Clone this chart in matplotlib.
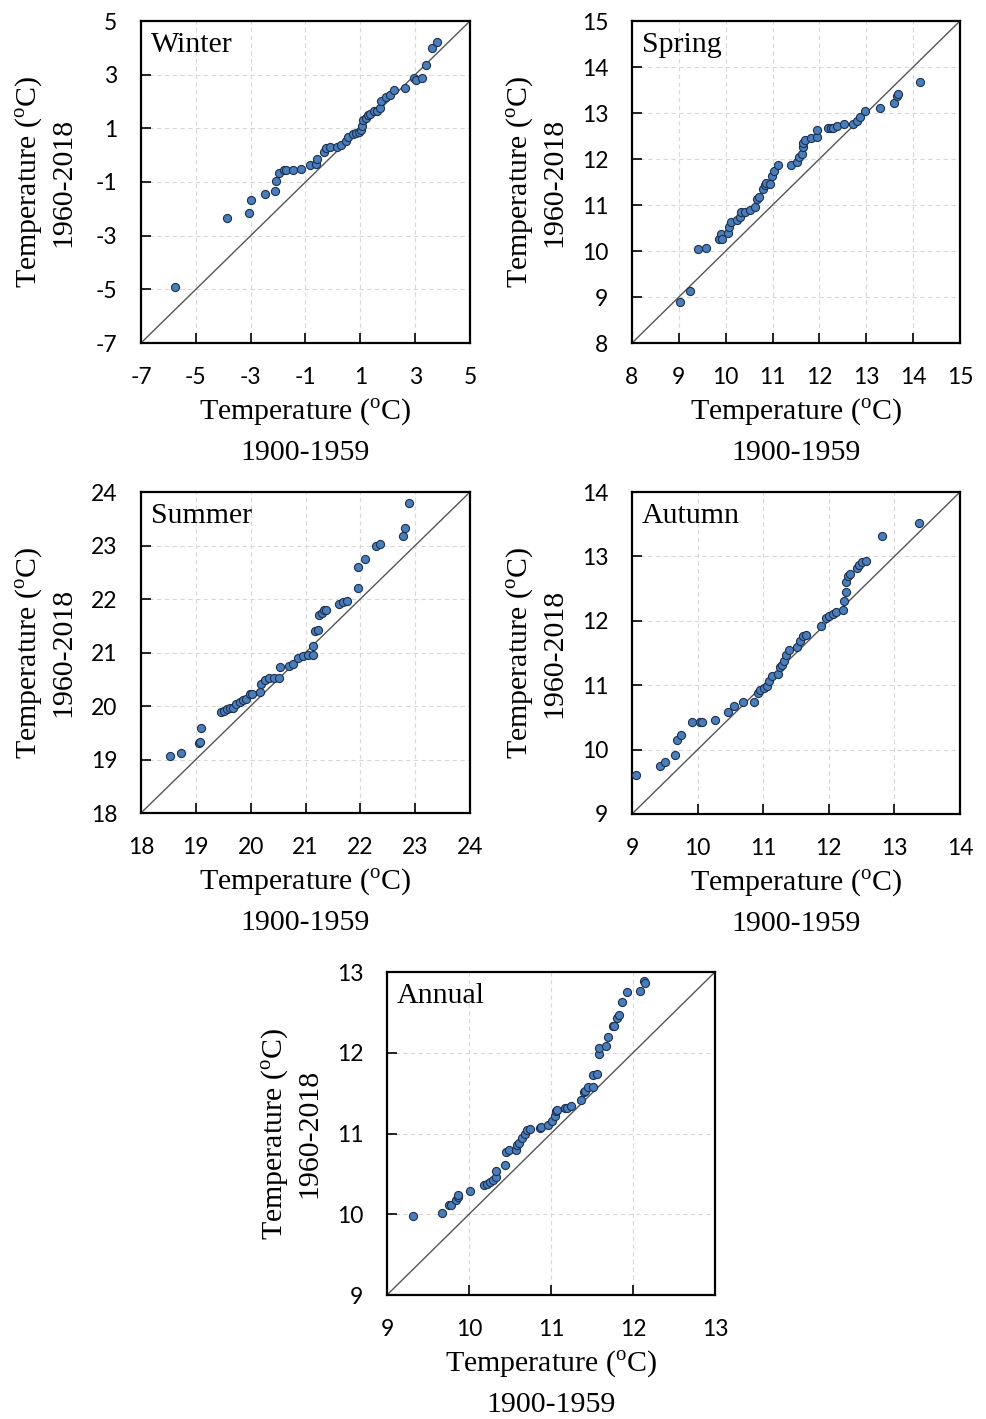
import numpy as np
import matplotlib
matplotlib.use('Agg')
import matplotlib.pyplot as plt

plt.rcParams['mathtext.fontset'] = 'custom'
plt.rcParams['mathtext.rm'] = 'Liberation Serif'

# ---- data (x: 1900-1959, y: 1960-2018) ----
winter_x = [-5.76, -3.88, -3.07, -2.99, -2.48, -2.12, -2.07, -1.98, -1.77, -1.71, -1.47, -1.15,
            -0.85, -0.63, -0.58, -0.31, -0.24, -0.11, 0.16, 0.30, 0.47, 0.55, 0.73, 0.86, 0.95,
            1.01, 1.06, 1.10, 1.20, 1.29, 1.37, 1.49, 1.61, 1.71, 1.75, 1.95, 2.07, 2.23, 2.63,
            2.95, 3.02, 3.24, 3.38, 3.60, 3.78]
winter_y = [-4.93, -2.36, -2.17, -1.66, -1.43, -1.34, -0.98, -0.68, -0.57, -0.55, -0.56, -0.51,
            -0.38, -0.32, -0.16, 0.10, 0.26, 0.30, 0.31, 0.38, 0.53, 0.69, 0.78, 0.82, 0.88,
            0.94, 1.07, 1.30, 1.38, 1.48, 1.55, 1.63, 1.66, 1.77, 2.02, 2.17, 2.23, 2.42, 2.49,
            2.87, 2.79, 2.87, 3.36, 3.98, 4.23]

spring_x = [9.03, 9.24, 9.41, 9.58, 9.85, 9.90, 9.92, 10.04, 10.08, 10.12, 10.24, 10.31, 10.33,
            10.42, 10.51, 10.63, 10.67, 10.72, 10.79, 10.83, 10.86, 10.95, 10.99, 11.02, 11.12,
            11.40, 11.52, 11.57, 11.62, 11.64, 11.65, 11.70, 11.82, 11.94, 11.94, 12.19, 12.25,
            12.30, 12.37, 12.53, 12.71, 12.81, 12.87, 12.98, 13.29, 13.59, 13.66, 13.67, 14.15]
spring_y = [8.89, 9.12, 10.04, 10.06, 10.26, 10.37, 10.26, 10.39, 10.53, 10.64, 10.68, 10.75, 10.84,
            10.84, 10.89, 10.95, 11.13, 11.18, 11.35, 11.44, 11.47, 11.46, 11.62, 11.75, 11.87,
            11.87, 11.94, 12.05, 12.10, 12.26, 12.34, 12.42, 12.45, 12.47, 12.63, 12.68, 12.68,
            12.68, 12.72, 12.76, 12.76, 12.83, 12.92, 13.04, 13.10, 13.21, 13.36, 13.42, 13.68]

summer_x = [18.53, 18.73, 19.05, 19.08, 19.10, 19.46, 19.51, 19.57, 19.62, 19.68, 19.74, 19.81,
            19.86, 19.91, 19.98, 20.03, 20.17, 20.19, 20.26, 20.33, 20.42, 20.51, 20.53, 20.69,
            20.77, 20.87, 20.96, 21.04, 21.13, 21.13, 21.18, 21.22, 21.24, 21.30, 21.33, 21.38,
            21.62, 21.68, 21.75, 21.95, 21.95, 22.09, 22.28, 22.36, 22.77, 22.81, 22.88]
summer_y = [19.06, 19.12, 19.30, 19.32, 19.58, 19.88, 19.90, 19.94, 19.96, 19.96, 20.04, 20.07,
            20.11, 20.14, 20.22, 20.22, 20.26, 20.42, 20.49, 20.53, 20.53, 20.53, 20.73, 20.74,
            20.78, 20.90, 20.94, 20.95, 20.95, 21.12, 21.41, 21.42, 21.70, 21.73, 21.79, 21.80,
            21.90, 21.95, 21.97, 22.21, 22.59, 22.74, 23.00, 23.03, 23.17, 23.32, 23.79]

autumn_x = [9.06, 9.43, 9.50, 9.65, 9.69, 9.75, 9.91, 10.03, 10.06, 10.26, 10.46, 10.56, 10.69,
            10.86, 10.92, 10.95, 11.01, 11.06, 11.09, 11.13, 11.23, 11.26, 11.29, 11.32, 11.34,
            11.40, 11.51, 11.56, 11.61, 11.65, 11.88, 11.96, 12.01, 12.06, 12.11, 12.21, 12.23,
            12.26, 12.26, 12.30, 12.32, 12.43, 12.46, 12.51, 12.57, 12.81, 13.38]
autumn_y = [9.61, 9.75, 9.81, 9.92, 10.15, 10.23, 10.43, 10.43, 10.43, 10.46, 10.58, 10.68, 10.74,
            10.74, 10.88, 10.93, 10.96, 10.98, 11.06, 11.15, 11.18, 11.28, 11.32, 11.38, 11.47,
            11.54, 11.60, 11.68, 11.77, 11.78, 11.92, 12.05, 12.07, 12.10, 12.13, 12.17, 12.31,
            12.44, 12.61, 12.69, 12.72, 12.82, 12.86, 12.92, 12.93, 13.32, 13.52]

annual_x = [9.32, 9.67, 9.75, 9.78, 9.84, 9.86, 9.87, 10.01, 10.18, 10.22, 10.25, 10.29, 10.33,
            10.33, 10.44, 10.45, 10.49, 10.57, 10.58, 10.61, 10.65, 10.68, 10.71, 10.74, 10.86,
            10.88, 10.96, 11.01, 11.05, 11.06, 11.07, 11.17, 11.20, 11.24, 11.36, 11.40, 11.42,
            11.45, 11.51, 11.51, 11.56, 11.59, 11.59, 11.67, 11.69, 11.75, 11.77, 11.80, 11.83,
            11.86, 11.93, 12.09, 12.13, 12.15]
annual_y = [9.98, 10.01, 10.11, 10.12, 10.18, 10.21, 10.24, 10.29, 10.36, 10.38, 10.40, 10.43, 10.46,
            10.54, 10.61, 10.77, 10.80, 10.80, 10.86, 10.88, 10.94, 10.99, 11.04, 11.05, 11.07,
            11.08, 11.11, 11.15, 11.22, 11.28, 11.29, 11.31, 11.32, 11.34, 11.41, 11.51, 11.53,
            11.57, 11.57, 11.72, 11.74, 11.98, 12.06, 12.08, 12.20, 12.33, 12.33, 12.43, 12.47,
            12.63, 12.75, 12.76, 12.89, 12.86]

panels = [
    # name, x, y, (lo, hi), ticks, pixel box (left, top, right, bottom)
    ('Winter', winter_x, winter_y, (-7, 5), [-7, -5, -3, -1, 1, 3, 5], (141, 21, 470, 343)),
    ('Spring', spring_x, spring_y, (8, 15), list(range(8, 16)), (632, 21, 960, 343)),
    ('Summer', summer_x, summer_y, (18, 24), list(range(18, 25)), (141, 492, 470, 813)),
    ('Autumn', autumn_x, autumn_y, (9, 14), list(range(9, 15)), (632, 492, 960, 814)),
    ('Annual', annual_x, annual_y, (9, 13), list(range(9, 14)), (387, 972, 715, 1295)),
]

W, H = 987, 1419
fig = plt.figure(figsize=(W / 100, H / 100), dpi=100)

serif = 'Liberation Serif'
lab = r'Temperature ($^{\mathrm{o}}$C)'

for name, xs, ys, (lo, hi), ticks, (l, t, r, b) in panels:
    ax = fig.add_axes([l / W, 1 - b / H, (r - l) / W, (b - t) / H])
    ax.plot([lo, hi], [lo, hi], color='#555555', lw=1.0, zorder=2)
    ax.scatter(xs, ys, s=34, facecolor='#4a7ebb', edgecolor='#1c2f4f', linewidth=0.8, zorder=3)
    ax.set_xlim(lo, hi)
    ax.set_ylim(lo, hi)
    ax.set_xticks(ticks)
    ax.set_yticks(ticks)
    ax.set_xticklabels([str(v) for v in ticks])
    ax.set_yticklabels([str(v) for v in ticks])
    ax.grid(True, color='#d8d8d8', ls=(0, (4, 3)), lw=0.8)
    ax.set_axisbelow(True)
    ax.tick_params(direction='in', length=7, width=1.2, labelsize=16.5, pad=17,
                   top=False, right=False)
    for lbl in ax.get_xticklabels() + ax.get_yticklabels():
        lbl.set_fontfamily('Lato')
    for sp in ax.spines.values():
        sp.set_linewidth(1.6)
    ax.text(0.03, 0.965, name, transform=ax.transAxes, ha='left', va='top',
            fontsize=21.5, family=serif)

    cx = (l + r) / 2
    cy = (t + b) / 2
    fig.text(cx / W, 1 - (b + 69) / H, lab, ha='center', va='center', fontsize=21.5, family=serif)
    fig.text(cx / W, 1 - (b + 110) / H, '1900-1959', ha='center', va='center',
             fontsize=21.5, family=serif)
    fig.text((l - 112) / W, 1 - cy / H, lab, ha='center', va='center', rotation=90,
             fontsize=21.5, family=serif)
    fig.text((l - 78) / W, 1 - cy / H, '1960-2018', ha='center', va='center', rotation=90,
             fontsize=21.5, family=serif)

fig.savefig('out.png', dpi=100)
